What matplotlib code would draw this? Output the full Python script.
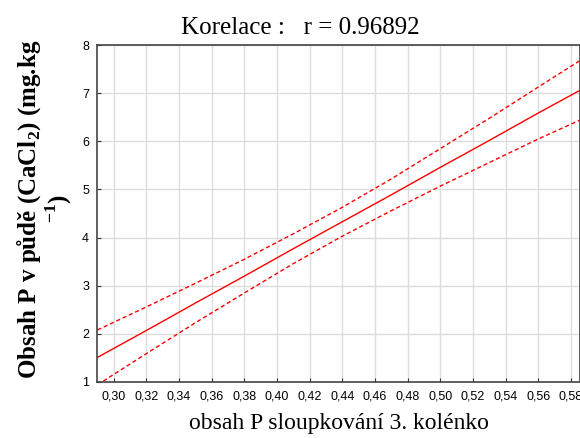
import matplotlib
matplotlib.use("Agg")
import matplotlib.pyplot as plt
from matplotlib.ticker import FuncFormatter

plt.rcParams['mathtext.fontset'] = 'custom'
plt.rcParams['mathtext.rm'] = 'Liberation Serif:bold'
plt.rcParams['mathtext.bf'] = 'Liberation Serif:bold'

# hodnoty
x_hodnoty = [0.29, 0.32, 0.35, 0.38, 0.41, 0.44, 0.47, 0.50, 0.53, 0.56, 0.586]
regrese = [1.51, 2.07, 2.64, 3.20, 3.77, 4.33, 4.89, 5.46, 6.02, 6.59, 7.07]
horni_mez = [2.08, 2.56, 3.05, 3.55, 4.08, 4.63, 5.22, 5.85, 6.48, 7.13, 7.69]
dolni_mez = [0.94, 1.59, 2.23, 2.85, 3.46, 4.03, 4.56, 5.07, 5.56, 6.05, 6.45]

x_ticky = [0.30, 0.32, 0.34, 0.36, 0.38, 0.40, 0.42, 0.44, 0.46, 0.48, 0.50, 0.52, 0.54, 0.56, 0.58]
y_ticky = [1, 2, 3, 4, 5, 6, 7, 8]

fig = plt.figure(figsize=(5.8, 4.38), dpi=100)
ax = fig.add_axes([0.168, 0.128, 0.832, 0.769])

ax.plot(x_hodnoty, regrese, color='#ff0000', lw=1)
ax.plot(x_hodnoty, horni_mez, color='#ff0000', lw=1, ls=(0, (3, 2)))
ax.plot(x_hodnoty, dolni_mez, color='#ff0000', lw=1, ls=(0, (3, 2)))

ax.set_xlim(0.29, 0.5855)
ax.set_ylim(1, 8)
ax.set_xticks(x_ticky)
ax.set_yticks(y_ticky)
ax.xaxis.set_major_formatter(FuncFormatter(lambda v, p: ('%.2f' % v).replace('.', ',')))
ax.grid(True, color='#dddddd', lw=1)
ax.set_axisbelow(True)
ax.tick_params(direction='in', length=3, labelsize=9, colors='#333333', pad=6)
for lab in ax.get_xticklabels() + ax.get_yticklabels():
    lab.set_fontfamily('Liberation Sans')
    lab.set_color('black')
for s in ax.spines.values():
    s.set_color('#444444')
    s.set_linewidth(1.2)

fig.text(0.517, 0.922, 'Korelace :   r = 0.96892', fontfamily='Liberation Serif',
         fontsize=18, ha='center', va='baseline')
ax.set_xlabel('obsah P sloupkování 3. kolénko', fontfamily='Liberation Serif', fontsize=17, labelpad=8)
fig.text(0.076, 0.523, 'Obsah P v půdě (CaCl$_2$) (mg.kg\n$^{-1}$)', fontfamily='Liberation Serif',
         fontsize=18, fontweight='bold', rotation=90, ha='center', va='center',
         multialignment='center', linespacing=1.0)

fig.savefig('out.png', dpi=100)
